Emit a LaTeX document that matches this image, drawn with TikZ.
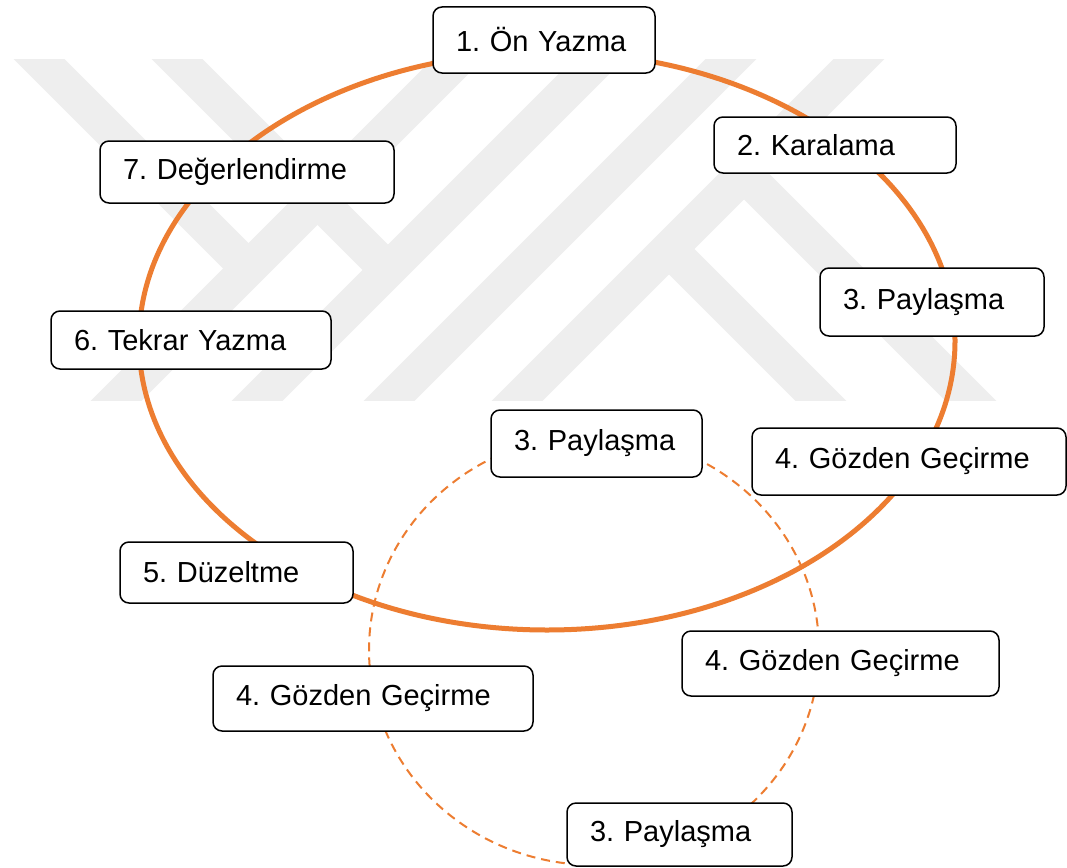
\documentclass[tikz,border=0pt]{standalone}
\usepackage{fontspec}
\setmainfont{Liberation Sans}
\definecolor{org}{HTML}{ED7D31}
\definecolor{wm}{HTML}{EEEEEE}
\begin{document}
\frenchspacing
\hyphenpenalty=10000\relax
\exhyphenpenalty=10000\relax
\begin{tikzpicture}[x=1pt,y=-1pt,
  stage/.style={draw=black, line width=1.5pt, rounded corners=9pt, fill=white,
    inner xsep=0pt, inner ysep=0pt, align=left,
    font=\fontsize{29}{34}\selectfont},
  wmband/.style={draw=wm, line width=36pt, line cap=butt},
  loop/.style={draw=org, line width=5pt},
  subloop/.style={draw=org, line width=2pt, dash pattern=on 9pt off 6pt}]
% canvas
\fill[white] (0,0) rectangle (1067,867);
\useasboundingbox (0,0) rectangle (1067,867);
% faint watermark
\begin{scope}
  \clip (0,60) rectangle (1067,400);
  \draw[wmband] (97,420) -- (477,40);
  \draw[wmband] (238,420) -- (618,40);
  \draw[wmband] (370,420) -- (750,40);
  \draw[wmband] (498,420) -- (878,40);
  \draw[wmband] (10,30) -- (248.5,268.5);
  \draw[wmband] (148,30) -- (388,270);
  \draw[wmband] (744,174) -- (1000,430);
  \draw[wmband] (669,249) -- (850,430);
\end{scope}
% cycles
\draw[loop] (547,341) ellipse [x radius=408, y radius=289];
\draw[subloop] (594,650) ellipse [x radius=225, y radius=215];
% main stages
\node[stage, minimum width=222pt, minimum height=66pt, text width=176pt] (n1) at (544,40) {1. Ön Yazma};
\node[stage, minimum width=242pt, minimum height=56pt, text width=196pt] (n2) at (835,145) {2. Karalama};
\node[stage, minimum width=224pt, minimum height=68pt, text width=178pt] (n3) at (932,302) {3. Paylaşma};
\node[stage, minimum width=314pt, minimum height=67pt, text width=268pt] (n4) at (909,461.5) {4. Gözden Geçirme};
\node[stage, minimum width=233pt, minimum height=61pt, text width=187pt] (n5) at (236.5,572.5) {5. Düzeltme};
\node[stage, minimum width=280pt, minimum height=58pt, text width=234pt] (n6) at (191,340) {6. Tekrar Yazma};
\node[stage, minimum width=294pt, minimum height=62pt, text width=248pt] (n7) at (247,172) {7. Değerlendirme};
% sub-cycle stages
\node[stage, minimum width=211pt, minimum height=67pt, text width=165pt] (m3) at (596.5,443.5) {3. Paylaşma};
\node[stage, minimum width=317pt, minimum height=65pt, text width=271pt] (m4r) at (840.5,663.5) {4. Gözden Geçirme};
\node[stage, minimum width=320pt, minimum height=65pt, text width=274pt] (m4l) at (373,698.5) {4. Gözden Geçirme};
\node[stage, minimum width=225pt, minimum height=63pt, text width=179pt] (b3) at (679.5,834.5) {3. Paylaşma};
\end{tikzpicture}
\end{document}
